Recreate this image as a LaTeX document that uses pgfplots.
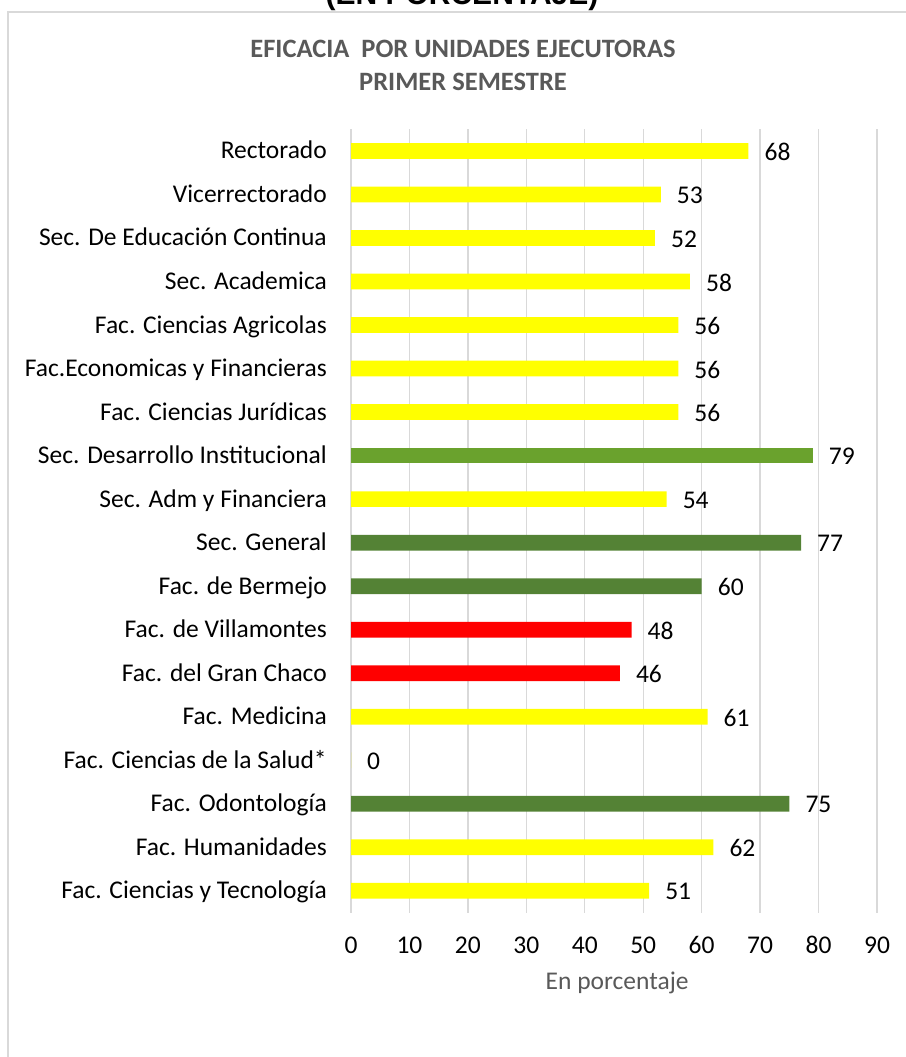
\documentclass[border=0pt]{standalone}
\usepackage{fontspec}
\setmainfont{Carlito}
\newfontfamily\arialf{Liberation Sans}
\usepackage{pgfplots}
\pgfplotsset{compat=1.18}
\definecolor{ybar}{HTML}{FFFF00}
\definecolor{gA}{HTML}{6AA22D}
\definecolor{gB}{HTML}{548235}
\definecolor{rbar}{HTML}{FF0000}
\definecolor{gridc}{HTML}{D9D9D9}
\definecolor{txtg}{HTML}{595959}
\begin{document}
\begin{tikzpicture}[x=1pt,y=1pt]
\useasboundingbox (0,0) rectangle (905,1057);
\draw[gridc, line width=1.5pt] (8,-20) -- (8,1045) -- (930,1045);
\node[font=\arialf\bfseries\fontsize{30}{36}\selectfont, anchor=base] at (462,1052) {(EN PORCENTAJE)};
\node[font=\bfseries\fontsize{26.5}{30}\selectfont, text=txtg] at (463,1008) {EFICACIA\ \ POR UNIDADES EJECUTORAS};
\node[font=\bfseries\fontsize{26.5}{30}\selectfont, text=txtg] at (463,975) {PRIMER SEMESTRE};
\begin{axis}[
  at={(351pt,144.4pt)}, anchor=south west,
  scale only axis, width=526pt, height=783.4pt,
  xmin=0, xmax=90, ymin=-0.5, ymax=17.5,
  xbar, bar width=15.7pt, bar shift=0pt,
  /pgf/number format/assume math mode=true,
  font=\fontsize{25.5}{30}\selectfont,
  axis line style={draw=none},
  major tick length=0pt,
  xmajorgrids, grid style={gridc, line width=1.3pt},
  xtick={0,10,...,90},
  xticklabel style={anchor=center, inner sep=0pt, yshift=-32.4pt},
  ytick={0,...,17},
  yticklabels={Fac. Ciencias y Tecnología, Fac. Humanidades, Fac. Odontología, Fac. Ciencias de la Salud*, Fac. Medicina, Fac. del Gran Chaco, Fac. de Villamontes, Fac. de Bermejo, Sec. General, Sec. Adm y Financiera, Sec. Desarrollo Institucional, Fac. Ciencias Jurídicas, Fac.Economicas y Financieras, Fac. Ciencias Agricolas, Sec. Academica, Sec. De Educación Continua, Vicerrectorado, Rectorado},
  yticklabel style={anchor=base east, inner sep=0pt, xshift=-24pt, yshift=-8pt},
  xlabel={En porcentaje},
  xlabel style={at={(axis description cs:0.506,-0.0899)}, anchor=center, text=txtg},
  nodes near coords,
  nodes near coords style={anchor=west, inner sep=0pt, xshift=16pt, yshift=-1pt, text=black},
  clip=false,
]
\addplot[fill=ybar, draw=none] coordinates {(51,0) (62,1) (0,3) (61,4) (54,9) (56,11) (56,12) (56,13) (58,14) (52,15) (53,16) (68,17)};
\addplot[fill=gB, draw=none] coordinates {(75,2) (60,7) (77,8)};
\addplot[fill=gA, draw=none] coordinates {(79,10)};
\addplot[fill=rbar, draw=none] coordinates {(46,5) (48,6)};
\end{axis}
\end{tikzpicture}
\end{document}
